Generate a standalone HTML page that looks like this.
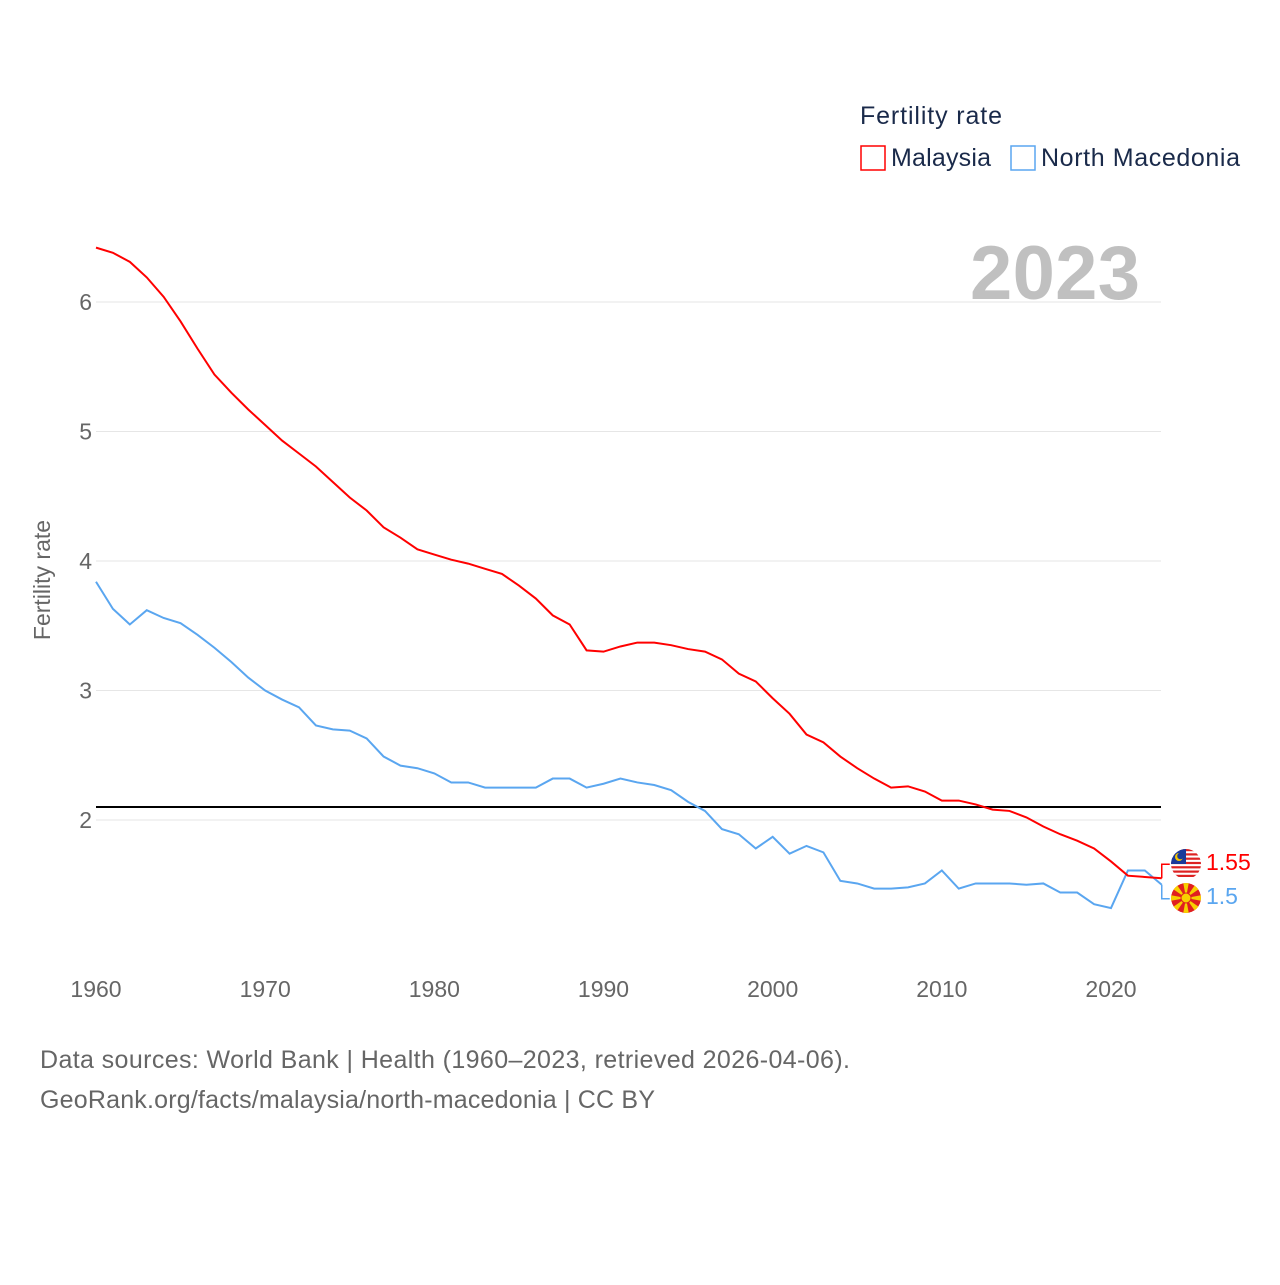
<!DOCTYPE html>
<html><head><meta charset="utf-8"><style>
body{margin:0;background:#fff;width:1280px;height:1280px;overflow:hidden;font-family:"Liberation Sans",sans-serif}
</style></head><body>
<svg id="c" width="1280" height="1280" xmlns="http://www.w3.org/2000/svg">
<defs><clipPath id="cp1"><circle cx="1186" cy="864" r="15"/></clipPath><clipPath id="cp2"><circle cx="1186" cy="898" r="15"/></clipPath></defs>
<text x="860" y="124" font-size="25" fill="#1a2a4a" textLength="142">Fertility rate</text>
<g><rect x="861" y="146" width="24" height="24" fill="none" stroke="#ff0000" stroke-width="1.5"/><text x="891" y="166" font-size="25" fill="#1a2a4a" textLength="100">Malaysia</text></g>
<g><rect x="1011" y="146" width="24" height="24" fill="none" stroke="#5aa6f0" stroke-width="1.5"/><text x="1041" y="166" font-size="25" fill="#1a2a4a" textLength="199">North Macedonia</text></g>
<text x="1140" y="299" font-size="76" font-weight="bold" fill="#c0c0c0" text-anchor="end" textLength="170">2023</text>
<text transform="translate(50,580) rotate(-90)" font-size="23" fill="#666" text-anchor="middle">Fertility rate</text>
<g id="grid"></g><g id="series"></g>
<text x="40" y="1068" font-size="25" fill="#666" textLength="810">Data sources: World Bank | Health (1960–2023, retrieved 2026-04-06).</text>
<text x="40" y="1108" font-size="25" fill="#666" textLength="615">GeoRank.org/facts/malaysia/north-macedonia | CC BY</text>
</svg>
<script>
const years=[];for(let y=1960;y<=2023;y++)years.push(y);
const malaysia=[6.42,6.38,6.31,6.19,6.04,5.85,5.64,5.44,5.30,5.17,5.05,4.93,4.83,4.73,4.61,4.49,4.39,4.26,4.18,4.09,4.05,4.01,3.98,3.94,3.90,3.81,3.71,3.58,3.51,3.31,3.30,3.34,3.37,3.37,3.35,3.32,3.30,3.24,3.13,3.07,2.94,2.82,2.66,2.60,2.49,2.40,2.32,2.25,2.26,2.22,2.15,2.15,2.12,2.08,2.07,2.02,1.95,1.89,1.84,1.78,1.68,1.57,1.56,1.55];
const macedonia=[3.84,3.63,3.51,3.62,3.56,3.52,3.43,3.33,3.22,3.10,3.00,2.93,2.87,2.73,2.70,2.69,2.63,2.49,2.42,2.40,2.36,2.29,2.29,2.25,2.25,2.25,2.25,2.32,2.32,2.25,2.28,2.32,2.29,2.27,2.23,2.14,2.07,1.93,1.89,1.78,1.87,1.74,1.80,1.75,1.53,1.51,1.47,1.47,1.48,1.51,1.61,1.47,1.51,1.51,1.51,1.50,1.51,1.44,1.44,1.35,1.32,1.61,1.61,1.50];
const yTicks=[2,3,4,5,6];
const xTicks=[1960,1970,1980,1990,2000,2010,2020];
const replacement=2.1;
const NS="http://www.w3.org/2000/svg";
const X=y=>96+(y-1960)*(1111-96)/60;
const Y=v=>820-(v-2)*129.5;
function el(t,a,p){const e=document.createElementNS(NS,t);for(const k in a)e.setAttribute(k,a[k]);p.appendChild(e);return e;}
const g=document.getElementById('grid'),s=document.getElementById('series');
yTicks.forEach(v=>{
 const l=el('line',{x1:96,x2:1161,y1:Y(v),y2:Y(v),stroke:'#e6e6e6'},g);
 
 
 const t=el('text',{x:92,y:Y(v)+8,'font-size':23,fill:'#666','text-anchor':'end'},g);t.textContent=v;
 
 
});
xTicks.forEach(v=>{
 const t=el('text',{x:X(v),y:997,'font-size':23,fill:'#666','text-anchor':'middle'},g);t.textContent=v;
 
 
});
const rl=el('line',{x1:96,x2:1161,y1:Y(replacement),y2:Y(replacement),stroke:'#000','stroke-width':2},g);


function line(d,c,n){const p=el('polyline',{points:d.map((v,i)=>X(years[i])+','+Y(v)).join(' '),fill:'none',stroke:c,'stroke-width':2},s);
 
 }
line(macedonia,'#5aa6f0','north-macedonia-line');
line(malaysia,'#ff0000','malaysia-line');
const lx=X(2023);
const my=Y(malaysia[63]),ny=Y(macedonia[63]);
el('polyline',{points:`${lx},${my} ${lx},${my-14} ${lx+8},${my-14}`,fill:'none',stroke:'#ff0000','stroke-width':1.5},s);
el('polyline',{points:`${lx},${ny} ${lx},${ny+14} ${lx+8},${ny+14}`,fill:'none',stroke:'#5aa6f0','stroke-width':1.5},s);
const f1=el('g',{'clip-path':'url(#cp1)'},s);
el('rect',{x:1171,y:849,width:30,height:30,fill:'#fff'},f1);
for(let i=0;i<7;i++)el('rect',{x:1171,y:849+i*4.3,width:30,height:2.2,fill:'#dd2222'},f1);
el('rect',{x:1171,y:849,width:15,height:15,fill:'#1a3a9a'},f1);
el('circle',{cx:1179,cy:857,r:4,fill:'#f5c400'},f1);
el('circle',{cx:1180.5,cy:856,r:3.3,fill:'#1a3a9a'},f1);
const f2=el('g',{'clip-path':'url(#cp2)'},s);
el('circle',{cx:1186,cy:898,r:15,fill:'#e02020'},f2);
for(let i=0;i<8;i++){const a=i*Math.PI/4;el('path',{d:`M1186 898 L${1186+18*Math.cos(a-0.18)} ${898+18*Math.sin(a-0.18)} L${1186+18*Math.cos(a+0.18)} ${898+18*Math.sin(a+0.18)} Z`,fill:'#f7d000'},f2);}
el('circle',{cx:1186,cy:898,r:5,fill:'#f7d000',stroke:'#e02020','stroke-width':1},f2);
const t1=el('text',{x:1206,y:870,'font-size':23,fill:'#ff0000'},s);t1.textContent=malaysia[63];


const t2=el('text',{x:1206,y:904,'font-size':23,fill:'#5aa6f0'},s);t2.textContent=macedonia[63];


</script>
</body></html>
